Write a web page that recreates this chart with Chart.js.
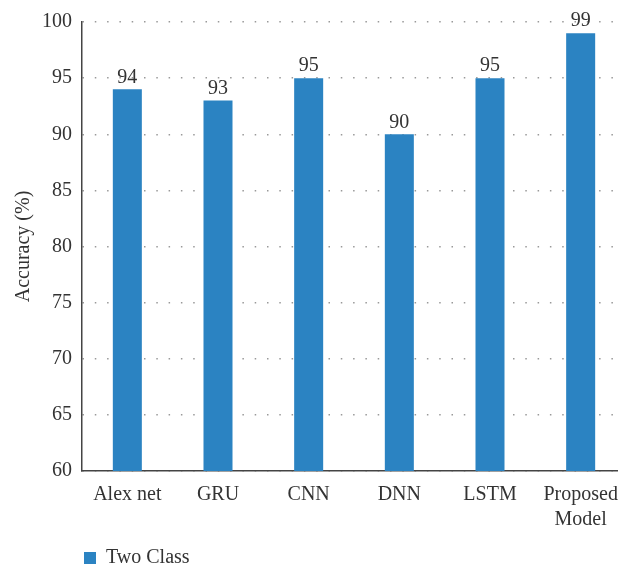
<!DOCTYPE html>
<html>
<head>
<meta charset="utf-8">
<script src="https://cdn.jsdelivr.net/npm/chart.js@4"></script>
<style>
  html, body { margin: 0; padding: 0; background: #fff; overflow: hidden; }
  #wrap { width: 626px; height: 569px; }
</style>
</head>
<body>
<div id="wrap"><canvas id="chart1"></canvas></div>
<script>
const models = ['Alex net', 'GRU', 'CNN', 'DNN', 'LSTM', ['Proposed', 'Model']];
const accuracy = [94, 93, 95, 90, 95, 99];
const yTicks = [60, 65, 70, 75, 80, 85, 90, 95, 100];

const FONT = '"Liberation Serif", "DejaVu Serif", serif';
const INK = '#333333';
const BLUE = '#2b83c2';

// value labels above each bar
const barLabels = {
    id: 'barLabels',
    afterDatasetsDraw(chart) {
        const ctx = chart.ctx;
        const meta = chart.getDatasetMeta(0);
        ctx.save();
        ctx.font = '20px ' + FONT;
        ctx.fillStyle = INK;
        ctx.textAlign = 'center';
        ctx.textBaseline = 'bottom';
        meta.data.forEach((bar, i) => {
            ctx.fillText(accuracy[i], bar.x, bar.y - 2);
        });
        ctx.restore();
    }
};

const chart1 = document.getElementById('chart1');

new Chart(chart1, {
    type: 'bar',
    data: {
        labels: models,
        datasets: [{
            label: 'Two Class',
            data: accuracy,
            backgroundColor: BLUE,
            borderWidth: 0,
            barPercentage: 0.64,
            categoryPercentage: 0.5
        }]
    },
    options: {
        responsive: true,
        maintainAspectRatio: false,
        animation: false,
        layout: {
            padding: { top: 10, left: 0, right: 0, bottom: -9 }
        },
        plugins: {
            legend: {
                position: 'bottom',
                align: 'start',
                fullSize: false,
                labels: {
                    color: INK,
                    font: { family: FONT, size: 20 },
                    boxWidth: 12,
                    boxHeight: 12,
                    padding: 2
                }
            },
            tooltip: { enabled: false }
        },
        scales: {
            x: {
                grid: { display: false },
                border: { display: true, color: '#444', width: 1.5 },
                ticks: {
                    color: INK,
                    font: { family: FONT, size: 20, lineHeight: 1.25 },
                    maxRotation: 0,
                    autoSkip: false,
                    padding: 3
                },
                afterFit(scale) { scale.height = 75; }
            },
            y: {
                min: 60,
                max: 100,
                afterBuildTicks(scale) {
                    scale.ticks = yTicks.map(v => ({ value: v }));
                },
                grid: {
                    color: '#999999',
                    lineWidth: 1.5,
                    drawTicks: false
                },
                border: { display: true, color: '#444', width: 1.5, dash: [1.5, 10.8] },
                ticks: {
                    color: INK,
                    font: { family: FONT, size: 20 },
                    padding: 10
                },
                title: {
                    display: true,
                    text: 'Accuracy (%)',
                    color: INK,
                    font: { family: FONT, size: 20 },
                    padding: { top: 12, bottom: 0 }
                },
                afterFit(scale) { scale.width = 82; }
            }
        }
    },
    plugins: [barLabels]
});
</script>
</body>
</html>
